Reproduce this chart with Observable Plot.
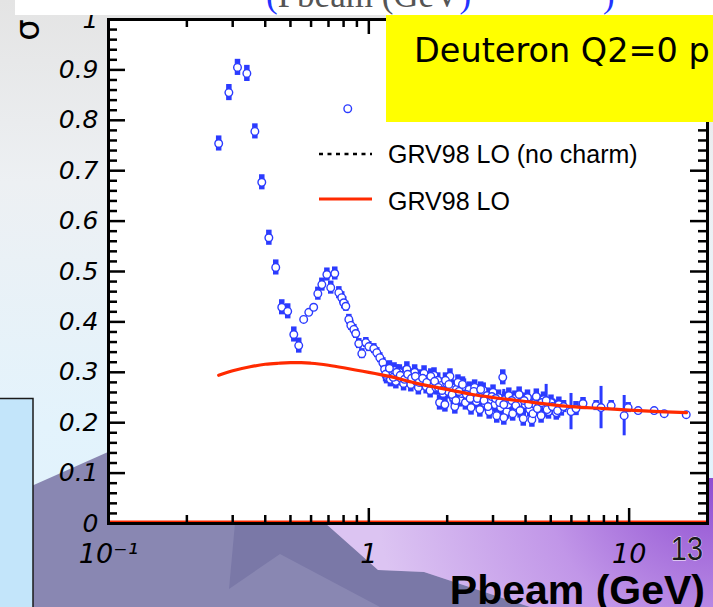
<!DOCTYPE html>
<html><head><meta charset="utf-8">
<script src="https://cdn.jsdelivr.net/npm/d3@7"></script>
<script src="https://cdn.jsdelivr.net/npm/@observablehq/plot@0.6"></script>
<style>
html,body{margin:0;padding:0;background:#fff;}
#slide{position:relative;width:713px;height:607px;overflow:hidden;}
#slide > svg, #chart{position:absolute;left:0;top:0;}
#chart svg{background:transparent !important;overflow:visible;}
#chart g[aria-label="y-axis tick label"], #chart g[aria-label="x-axis tick label"]{font-family:"DejaVu Sans";font-style:italic;fill:#000;}
</style></head>
<body>
<div id="slide">
<svg id="bg" width="713" height="607">
 <defs>
  <linearGradient id="sky" x1="0" y1="0" x2="0" y2="1">
   <stop offset="0" stop-color="#e4e4e4"/><stop offset="0.3" stop-color="#edf0f3"/><stop offset="0.7" stop-color="#e3f3fc"/><stop offset="1" stop-color="#dff1fc"/>
  </linearGradient>
  <radialGradient id="lilac" cx="713" cy="470" r="340" gradientUnits="userSpaceOnUse">
   <stop offset="0" stop-color="#8c4ad0"/><stop offset="0.5" stop-color="#c196e8"/><stop offset="1" stop-color="#dcc4f2"/>
  </radialGradient>
 </defs>
 <rect width="713" height="607" fill="url(#sky)"/>
 <polygon points="0,500 108,452 108,523 713,523 713,607 0,607" fill="#8987b2"/>
 <polygon points="235,523 325,523 378,570 424,572 530,607 380,607 280,554 229,589" fill="#7a78a7"/>
 <polygon points="325,523 706,523 706,478 713,478 713,607 530,607 424,572 378,570" fill="url(#lilac)"/>
</svg>
<div id="chart"></div>
<svg id="fg" width="713" height="607" style="pointer-events:none">
 <rect x="15" y="0" width="698" height="15" fill="#fff"/>
 <text x="266" y="7" font-family="Liberation Serif" font-size="35" fill="#555"><tspan fill="#2233ff">(</tspan>Pbeam (GeV<tspan fill="#2233ff">)</tspan></text>
 <text x="603" y="7" font-family="Liberation Serif" font-size="35" fill="#2233ff">)</text>
 <text transform="translate(39,30) rotate(-90)" text-anchor="middle" font-family="DejaVu Sans" font-size="34" fill="#000">σ</text>
 <rect x="386" y="15" width="340" height="107" fill="#ffff00"/>
 <text x="414" y="62" font-family="DejaVu Sans" font-size="33.5" fill="#000">Deuteron Q2=0 p</text>
 <rect x="-2" y="398.5" width="35" height="215" fill="#c3e5fa" stroke="#1a1a1a" stroke-width="1.5"/>
 <line x1="319" x2="372" y1="154" y2="154" stroke="#000" stroke-width="2.5" stroke-dasharray="4 4.5"/>
 <text x="388" y="163" font-family="Liberation Sans" font-size="25" fill="#000">GRV98 LO (no charm)</text>
 <line x1="319" x2="372" y1="199" y2="199" stroke="#ff2a00" stroke-width="3"/>
 <text x="388" y="210" font-family="Liberation Sans" font-size="25" fill="#000">GRV98 LO</text>
 <text transform="translate(703,560) scale(0.85,1)" text-anchor="end" font-family="Liberation Sans" font-size="34" fill="#1a1a1a" stroke="#fff" stroke-width="0.8" paint-order="stroke">13</text>
 <text x="705" y="604" text-anchor="end" font-family="Liberation Sans" font-weight="bold" font-size="41" fill="#000">Pbeam (GeV)</text>
</svg>
</div>
<script>
// ---- data: resonance region (p in GeV, sigma, error)
const pRes = [0.265,0.290,0.313,0.340,0.365,0.388,0.413,0.439,0.463,0.488,0.515,0.538,0.562,0.588,0.614,0.637,0.660,0.690,0.714,0.740,0.767,0.787,0.801,0.816,0.830,0.838,0.853,0.876,0.891,0.915,0.940,0.974,1.000,1.045,1.073,1.102,1.132];
const sRes = [0.754,0.855,0.905,0.893,0.778,0.677,0.567,0.508,0.429,0.421,0.375,0.353,0.405,0.419,0.429,0.456,0.474,0.494,0.468,0.496,0.458,0.448,0.438,0.431,0.823,0.405,0.393,0.385,0.377,0.357,0.337,0.359,0.351,0.347,0.339,0.329,0.319];
const eRes = [0.015,0.016,0.016,0.016,0.015,0.015,0.015,0.015,0.015,0.015,0.015,0.015,0,0,0,0.013,0.013,0.013,0.013,0.013,0.012,0.012,0.012,0.010,0,0.010,0.010,0.010,0.010,0.010,0.010,0.010,0.010,0.010,0.010,0.010,0.010];
// ---- dense region (two overlapping data sets)
const pMid = [1.15,1.17,1.19,1.21,1.23,1.25,1.27,1.29,1.31,1.33,1.36,1.38,1.40,1.42,1.45,1.47,1.50,1.52,1.55,1.57,1.60,1.63,1.66,1.69,1.72,1.75,1.78,1.81,1.84,1.87,1.90,1.93,1.96,1.99,2.02,2.05,2.08,2.11,2.14,2.17,2.20,2.24,2.27,2.31,2.35,2.39,2.43,2.47,2.51,2.55,2.59,2.63,2.67,2.71,2.75,2.80,2.85,2.90,2.95,3.00,3.05,3.10,3.15,3.21,3.27,3.33,3.39,3.45,3.51,3.57,3.64,3.71,3.78,3.85,3.92,3.99,4.07,4.15,4.23,4.31,4.40,4.49,4.59,4.69,4.79,4.90,5.01,5.13,5.25,5.37,5.49];
const sMid = [0.306,0.292,0.300,0.286,0.296,0.304,0.282,0.292,0.300,0.288,0.278,0.296,0.306,0.286,0.276,0.292,0.300,0.282,0.270,0.290,0.280,0.298,0.272,0.286,0.264,0.280,0.294,0.270,0.284,0.240,0.274,0.258,0.236,0.278,0.262,0.292,0.270,0.250,0.232,0.266,0.280,0.246,0.258,0.272,0.240,0.254,0.266,0.230,0.250,0.270,0.242,0.258,0.226,0.252,0.264,0.238,0.254,0.222,0.244,0.260,0.236,0.214,0.250,0.230,0.290,0.246,0.222,0.254,0.238,0.218,0.248,0.230,0.256,0.240,0.208,0.236,0.250,0.226,0.206,0.238,0.252,0.232,0.214,0.246,0.232,0.222,0.240,0.230,0.220,0.236,0.228];
const pMid2 = [1.16,1.20,1.24,1.28,1.32,1.37,1.41,1.46,1.51,1.56,1.61,1.67,1.73,1.79,1.85,1.91,1.97,2.03,2.09,2.16,2.22,2.29,2.37,2.45,2.53,2.61,2.69,2.77,2.87,2.97,3.07,3.18,3.30,3.42,3.54,3.67,3.81,3.95,4.11,4.27,4.44,4.62,4.84,5.07,5.31];
const sMid2 = [0.296,0.308,0.290,0.300,0.294,0.286,0.296,0.288,0.292,0.280,0.288,0.280,0.292,0.282,0.270,0.264,0.284,0.276,0.256,0.244,0.262,0.276,0.256,0.248,0.262,0.248,0.266,0.244,0.232,0.252,0.248,0.240,0.210,0.236,0.244,0.234,0.224,0.244,0.236,0.218,0.228,0.240,0.226,0.232,0.224];
const eMid = 0.015;
// ---- higher momenta
const pHigh = [3.30,4.80,5.60,5.98,6.25,6.65,7.47,7.80,8.53,9.57,9.91,10.83,12.48,13.64,16.57];
const sHigh = [0.236,0.244,0.232,0.222,0.228,0.238,0.234,0.230,0.234,0.214,0.230,0.224,0.224,0.218,0.216];
const eHigh = [0.030,0.032,0.012,0.036,0.014,0.012,0.010,0.042,0.010,0.040,0.010,0,0,0,0];
// ---- GRV98 LO curve
const pTheory = [0.265,0.30,0.35,0.40,0.45,0.50,0.55,0.60,0.70,0.80,0.90,1.0,1.2,1.5,2.0,2.5,3.0,4.0,5.0,6.0,8.0,10,13,16.6];
const sTheory = [0.294,0.303,0.311,0.316,0.318,0.319,0.319,0.318,0.314,0.309,0.304,0.300,0.292,0.279,0.266,0.256,0.250,0.242,0.236,0.232,0.228,0.225,0.222,0.220];
// ---- axes
const yLabels = [0,0.1,0.2,0.3,0.4,0.5,0.6,0.7,0.8,0.9,1];
const yMinor = [0.02,0.04,0.06,0.08,0.12,0.14,0.16,0.18,0.22,0.24,0.26,0.28,0.32,0.34,0.36,0.38,0.42,0.44,0.46,0.48,0.52,0.54,0.56,0.58,0.62,0.64,0.66,0.68,0.72,0.74,0.76,0.78,0.82,0.84,0.86,0.88,0.92,0.94,0.96,0.98];
const xLabels = [0.1,1,10];
const xMinor = [0.2,0.3,0.4,0.5,0.6,0.7,0.8,0.9,2,3,4,5,6,7,8,9];

const pts = [];
pRes.forEach((p,i)=>pts.push({p, s:sRes[i], e:eRes[i]}));
pMid.forEach((p,i)=>pts.push({p, s:sMid[i], e:eMid}));
pMid2.forEach((p,i)=>pts.push({p, s:sMid2[i], e:eMid}));
pHigh.forEach((p,i)=>pts.push({p, s:sHigh[i], e:eHigh[i]}));
const theory = pTheory.map((p,i)=>({p, s:sTheory[i]}));

const blue = "#2b3bff", red = "#ff2a00";
const chart = Plot.plot({
  width: 713, height: 607,
  marginLeft: 108, marginRight: 6, marginTop: 19, marginBottom: 84,
  x: {type: "log", domain: [0.1, 20]},
  y: {domain: [0, 1]},
  style: {background: "transparent", overflow: "visible"},
  marks: [
    Plot.frame({fill: "white", stroke: "none"}),
    Plot.ruleY([0], {stroke: red, strokeWidth: 2, dy: -2}),
    Plot.ruleX(pts, {filter: d => d.e > 0 && d.e <= 0.02, x: "p", y1: d => d.s - d.e, y2: d => d.s + d.e, stroke: blue, strokeWidth: 5.5}),
    Plot.ruleX(pts, {filter: d => d.e > 0.02, x: "p", y1: d => d.s - d.e, y2: d => d.s + d.e, stroke: blue, strokeWidth: 3}),
    Plot.dot(pts, {x: "p", y: "s", r: 3.8, stroke: blue, fill: "white", strokeWidth: 1.4}),
    Plot.line(theory, {x: "p", y: "s", stroke: red, strokeWidth: 3.2, curve: "monotone-x"}),
    Plot.tickY(yLabels, {y: d => d, insetRight: 582, stroke: "#000", strokeWidth: 2.5}),
    Plot.tickY(yMinor, {y: d => d, insetRight: 590, stroke: "#000", strokeWidth: 2.5}),
    Plot.tickY(yLabels, {y: d => d, insetLeft: 582, stroke: "#000", strokeWidth: 2.5}),
    Plot.tickY(yMinor, {y: d => d, insetLeft: 590, stroke: "#000", strokeWidth: 2.5}),
    Plot.tickX(xLabels, {x: d => d, insetTop: 489, stroke: "#000", strokeWidth: 2.5}),
    Plot.tickX(xMinor, {x: d => d, insetTop: 496, stroke: "#000", strokeWidth: 2.5}),
    Plot.tickX(xLabels, {x: d => d, insetBottom: 489, stroke: "#000", strokeWidth: 2.5}),
    Plot.tickX(xMinor, {x: d => d, insetBottom: 496, stroke: "#000", strokeWidth: 2.5}),
    Plot.axisY({ticks: yLabels, tickSize: 0, tickPadding: 10, label: null, fontSize: 25, fontFamily: "DejaVu Sans", fontStyle: "italic",
      tickFormat: d => d === 0 ? "0" : d === 1 ? "1" : d.toFixed(1)}),
    Plot.axisX({ticks: xLabels, tickSize: 0, tickPadding: 20, label: null, fontSize: 27, fontFamily: "DejaVu Sans", fontStyle: "italic",
      tickFormat: d => d === 0.1 ? "10\u207B\u00B9" : String(d)}),
    Plot.frame({stroke: "#000", strokeWidth: 3})
  ]
});
document.getElementById("chart").appendChild(chart);
</script>
</body></html>
